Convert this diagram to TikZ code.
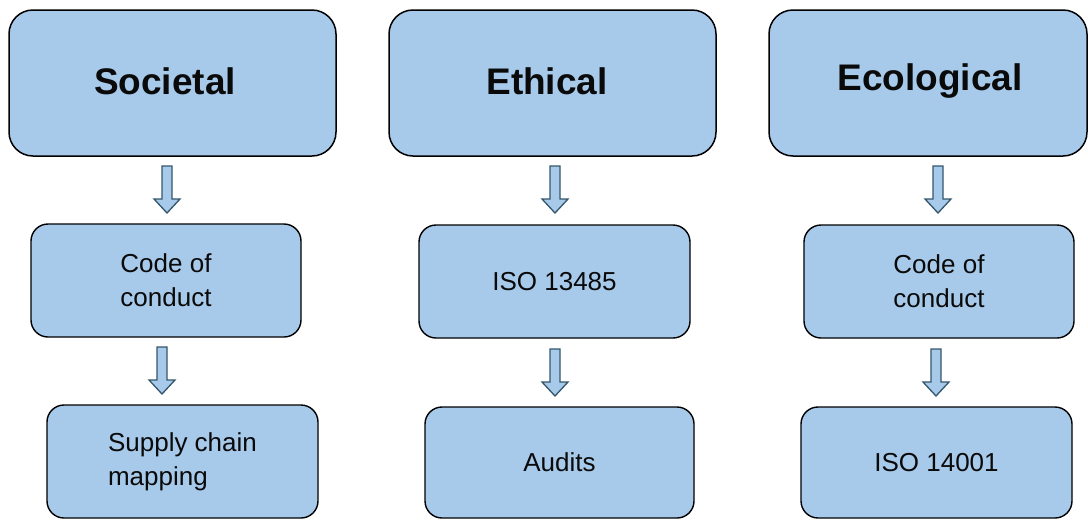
\documentclass[tikz,border=0pt]{standalone}
\usepackage{fontspec}
\setmainfont{Liberation Sans}
\usetikzlibrary{calc}
\definecolor{boxblue}{HTML}{A7C9EA}
\definecolor{arrowedge}{HTML}{34566A}
\definecolor{ink}{HTML}{0A0A0A}
\tikzset{
  headbox/.style={draw=black, line width=1.5pt, fill=boxblue, rounded corners=24pt,
    inner sep=0pt, text=ink, font=\fontsize{37}{40}\selectfont\bfseries},
  itembox/.style={draw=black, line width=1.4pt, fill=boxblue, rounded corners=17pt,
    inner sep=0pt, minimum width=270pt, minimum height=113pt, text=ink,
    align=left, font=\fontsize{26}{34}\selectfont},
  blockarrow/.style={draw=arrowedge, line width=1.3pt, fill=boxblue, line join=miter}
}
% hollow down arrow hanging from a named top point
\newcommand\downblock[1]{%
  \draw[blockarrow] ($(#1)+(-5,0)$) -- ++(0,33) -- ++(-8,0) -- ++(13,14)
    -- ++(13,-14) -- ++(-8,0) -- ++(0,-33) -- cycle;}
\begin{document}
\begin{tikzpicture}[x=1pt, y=-1pt]
\useasboundingbox (0,0) rectangle (1088,520);

% column headers
\node[headbox, minimum width=327pt, minimum height=146pt] (soc) at (172.5,83) {};
\node[headbox, minimum width=327pt, minimum height=146pt] (eth) at (552.5,83) {};
\node[headbox, minimum width=318pt, minimum height=146pt] (eco) at (928,83) {};
\node[font=\fontsize{37}{40}\selectfont\bfseries, text=ink] (soct) at (165,81) {Societal};
\node[font=\fontsize{37}{40}\selectfont\bfseries, text=ink] (etht) at (547,81) {Ethical};
\node[font=\fontsize{37}{40}\selectfont\bfseries, text=ink] (ecot) at (930,81) {Ecological};

% second row
\node[itembox] (soccode) at (166,280.5) {Code of\\conduct};
\node[itembox, minimum width=271pt] (ethiso) at (554.5,281.5) {ISO 13485};
\node[itembox] (ecocode) at (939,281.5) {Code of\\conduct};

% third row
\node[itembox, minimum width=271pt] (socmap) at (182.5,461.5) {Supply chain\\mapping};
\node[itembox, minimum width=269pt, minimum height=111pt] (ethaud) at (559.5,462.5) {Audits};
\node[itembox, minimum width=271pt, minimum height=111pt] (ecoiso) at (936.5,462.5) {ISO 14001};

% arrows between rows
\coordinate (a1) at (167,166);
\coordinate (a2) at (162,347);
\coordinate (a3) at (555,166);
\coordinate (a4) at (555,349);
\coordinate (a5) at (938,166);
\coordinate (a6) at (936,349);
\downblock{a1}
\downblock{a2}
\downblock{a3}
\downblock{a4}
\downblock{a5}
\downblock{a6}
\end{tikzpicture}
\end{document}
